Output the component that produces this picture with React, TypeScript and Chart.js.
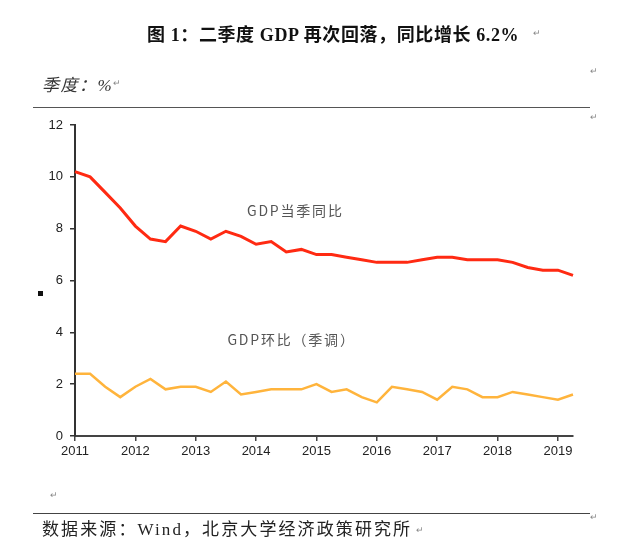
import React, { useEffect, useRef } from "react";
import { Chart, registerables } from "chart.js";

Chart.register(...registerables);

const years = ["2011", "2012", "2013", "2014", "2015", "2016", "2017", "2018", "2019"];
const quarterLabels = years.flatMap((y) => ["Q1", "Q2", "Q3", "Q4"].map((q) => y + q)).slice(0, 34);
const gdpYoY = [10.2, 10.0, 9.4, 8.8, 8.1, 7.6, 7.5, 8.1, 7.9, 7.6, 7.9, 7.7, 7.4, 7.5, 7.1, 7.2, 7.0, 7.0, 6.9, 6.8, 6.7, 6.7, 6.7, 6.8, 6.9, 6.9, 6.8, 6.8, 6.8, 6.7, 6.5, 6.4, 6.4, 6.2];
const gdpQoQ = [2.4, 2.4, 1.9, 1.5, 1.9, 2.2, 1.8, 1.9, 1.9, 1.7, 2.1, 1.6, 1.7, 1.8, 1.8, 1.8, 2.0, 1.7, 1.8, 1.5, 1.3, 1.9, 1.8, 1.7, 1.4, 1.9, 1.8, 1.5, 1.5, 1.7, 1.6, 1.5, 1.4, 1.6];
const seriesNames = ["GDP当季同比", "GDP环比（季调）"];
const labelPos = [
  { x: 14.6, y: 8.7 },
  { x: 14.35, y: 3.7 },
];

const serifFont = '"Liberation Serif", "Times New Roman", "Noto Sans CJK SC", serif';
const tickFont = '"Liberation Sans", Arial, sans-serif';

const seriesLabelPlugin = {
  id: "seriesLabels",
  afterDatasetsDraw(chart: any) {
    const { ctx, scales } = chart;
    ctx.save();
    ctx.font = '14px "Noto Sans CJK SC", sans-serif';
    try {
      (ctx as any).letterSpacing = "1.8px";
    } catch (e) {}
    ctx.fillStyle = "#555";
    ctx.textAlign = "center";
    ctx.textBaseline = "middle";
    seriesNames.forEach((name, i) => {
      const px = scales.x.getPixelForValue(labelPos[i].x);
      const py = scales.y.getPixelForValue(labelPos[i].y);
      ctx.fillText(name, px, py);
    });
    ctx.restore();
  },
};

export default function App() {
  const ref = useRef<HTMLCanvasElement | null>(null);
  useEffect(() => {
    if (!ref.current) return;
    const chart = new Chart(ref.current, {
      type: "line",
      data: {
        labels: quarterLabels,
        datasets: [
          {
            label: seriesNames[0],
            data: gdpYoY,
            borderColor: "#ff2a12",
            borderWidth: 3,
            pointRadius: 0,
            tension: 0,
          },
          {
            label: seriesNames[1],
            data: gdpQoQ,
            borderColor: "#ffb43c",
            borderWidth: 2.5,
            pointRadius: 0,
            tension: 0,
          },
        ],
      },
      options: {
        animation: false,
        responsive: false,
        maintainAspectRatio: false,
        layout: { padding: { left: 0, top: 125, right: 68, bottom: 0 } },
        plugins: { legend: { display: false }, tooltip: { enabled: false } },
        scales: {
          x: {
            type: "category",
            offset: false,
            afterFit: (s: any) => {
              s.height = 117;
            },
            border: { display: true, color: "#444", width: 2 },
            grid: {
              display: true,
              drawOnChartArea: false,
              drawTicks: true,
              tickLength: 5,
              color: (c: any) => (c.index % 4 === 0 ? "#444" : "rgba(0,0,0,0)"),
              lineWidth: 1.5,
            },
            ticks: {
              autoSkip: false,
              maxRotation: 0,
              padding: 3,
              color: "#222",
              font: { family: tickFont, size: 13 },
              callback: (_v: any, i: number) => (i % 4 === 0 ? years[i / 4] : ""),
            },
          },
          y: {
            min: 0,
            max: 12,
            afterFit: (s: any) => {
              s.width = 75;
            },
            border: { display: true, color: "#333", width: 2 },
            grid: {
              display: true,
              drawOnChartArea: false,
              drawTicks: true,
              tickLength: 5,
              color: "#333",
              lineWidth: 1.5,
            },
            ticks: {
              stepSize: 2,
              padding: 7,
              color: "#222",
              font: { family: tickFont, size: 13 },
            },
          },
        },
      },
      plugins: [seriesLabelPlugin],
    });
    return () => chart.destroy();
  }, []);

  const mark = (left: number, top: number) => (
    <span style={{ position: "absolute", left, top, fontSize: 9, color: "#888", fontFamily: serifFont }}>↵</span>
  );

  return (
    <div style={{ position: "absolute", left: 0, top: 0, width: 641, height: 553, background: "#fff", overflow: "hidden" }}>
      <canvas ref={ref} width={641} height={553} style={{ position: "absolute", left: 0, top: 0 }} />
      <div
        style={{
          position: "absolute",
          left: 147,
          top: 20,
          whiteSpace: "nowrap",
          fontFamily: serifFont,
          fontWeight: "bold",
          fontSize: 18,
          letterSpacing: 0.6,
          color: "#111",
        }}
      >
        图 1：二季度 GDP 再次回落，同比增长 6.2%
      </div>
      {mark(533, 28)}
      <div
        style={{
          position: "absolute",
          left: 42,
          top: 71,
          fontFamily: serifFont,
          fontStyle: "italic",
          fontSize: 17,
          letterSpacing: 1.5,
          color: "#333",
          whiteSpace: "nowrap",
        }}
      >
        季度：%
      </div>
      {mark(113, 78)}
      {mark(590, 66)}
      <div style={{ position: "absolute", left: 33, top: 107, width: 557, height: 0, borderTop: "1.5px solid #555" }} />
      {mark(590, 112)}
      <div style={{ position: "absolute", left: 38, top: 291, width: 5, height: 5, background: "#111" }} />
      {mark(50, 490)}
      <div style={{ position: "absolute", left: 33, top: 513, width: 557, height: 0, borderTop: "1.5px solid #444" }} />
      {mark(590, 512)}
      <div
        style={{
          position: "absolute",
          left: 42,
          top: 515,
          fontFamily: serifFont,
          fontSize: 17,
          letterSpacing: 2.1,
          color: "#222",
          whiteSpace: "nowrap",
        }}
      >
        数据来源：Wind，北京大学经济政策研究所
      </div>
      {mark(416, 525)}
    </div>
  );
}
